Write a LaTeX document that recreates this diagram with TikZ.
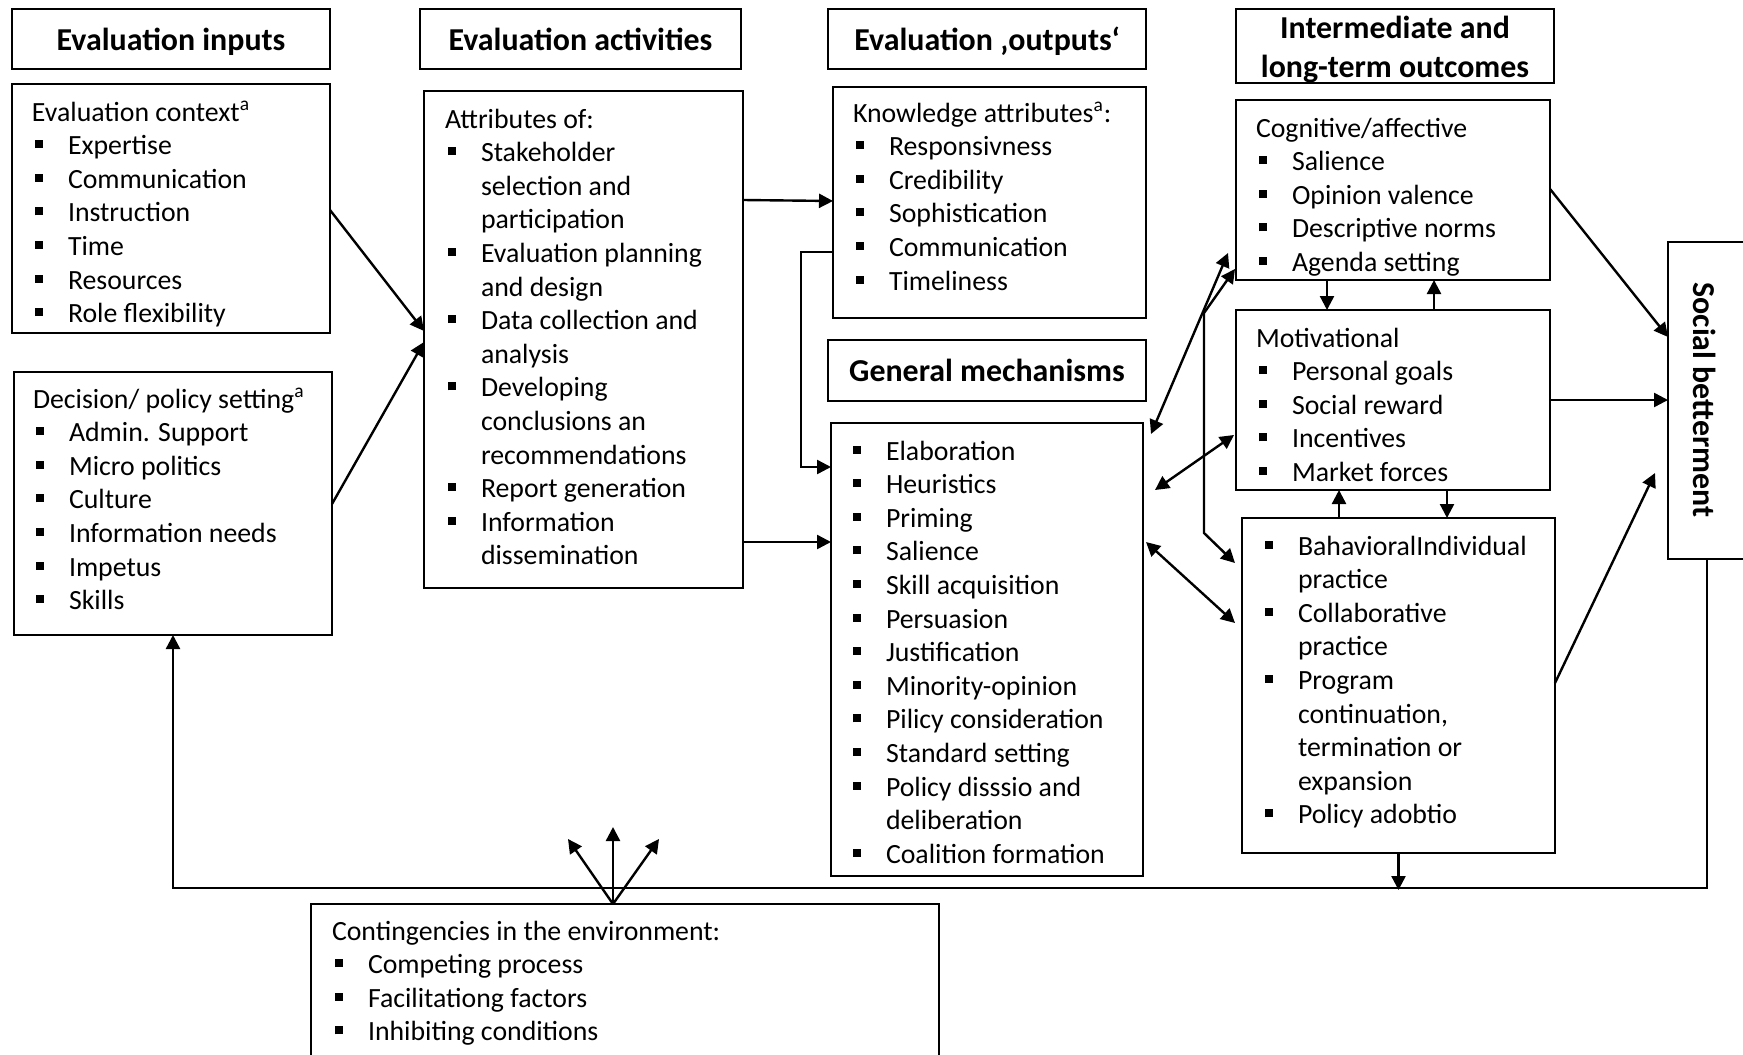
\documentclass[tikz,border=0pt]{standalone}
\usepackage{fontspec}
\setmainfont{Carlito}
\usetikzlibrary{arrows.meta,calc}
\newlength\PX
\setlength\PX{0.5pt}
\newcommand\bl[1]{\hspace*{3\PX}\rule[6.5\PX]{8\PX}{8\PX}\hspace*{25\PX}#1}
\newcommand\cl[1]{\hspace*{36\PX}#1}
\newcommand\mkbox[7][]{\node[box,#1,anchor=north west,minimum width={(#5-#3)*0.5pt},minimum height={(#6-#4)*0.5pt}] (#2) at (#3,#4) {#7};}
\newcommand\lst[1]{\parbox[t]{700\PX}{#1}}
\begin{document}
\begin{tikzpicture}[x=0.5pt,y=-0.5pt,
  box/.style={draw,line width=0.9pt,inner sep=0pt,outer sep=0pt},
  hdr/.style={font=\fontsize{15.95pt}{18.9pt}\selectfont\bfseries,inner sep=0pt,outer sep=0pt},
  conn/.style={line width=1.2pt,-{Triangle[length=7pt,width=7pt]}},
  dconn/.style={line width=1.2pt,{Triangle[length=7pt,width=7pt]}-{Triangle[length=7pt,width=7pt]}},
  txt/.style={anchor=base west,inner sep=0pt,outer sep=0pt,font=\fontsize{13.9pt}{16.8pt}\selectfont}]
\useasboundingbox (0,0) rectangle (1743,1054);
% boxes
\mkbox{hin}{12}{9}{330}{69}{}
\mkbox{ctx}{12}{84}{330}{333}{}
\mkbox{dec}{14}{372}{332}{635}{}
\mkbox{hact}{420}{9}{741}{69}{}
\mkbox{att}{424}{91}{743}{588}{}
\mkbox{hout}{828}{9}{1146}{69}{}
\mkbox{know}{833}{87}{1146}{318}{}
\mkbox{hgen}{828}{340}{1146}{401}{}
\mkbox{mech}{831}{423}{1143}{876}{}
\mkbox{hint}{1236}{9}{1554}{83}{}
\mkbox{cog}{1236}{100}{1550}{280}{}
\mkbox{mot}{1236}{310}{1550}{490}{}
\mkbox{beh}{1242}{518}{1555}{853}{}
\mkbox{soc}{1668}{242}{1746}{559}{}
\mkbox{cont}{311}{904}{939}{1070}{}
% headings
\node[hdr,anchor=base] (thin) at (hin.center |- 0,51) {Evaluation inputs};
\node[hdr,anchor=base] (thact) at (hact.center |- 0,51) {Evaluation activities};
\node[hdr,anchor=base] (thout) at (hout.center |- 0,51) {Evaluation ‚outputs‘};
\node[hdr,anchor=base] (thgen) at (hgen.center |- 0,381) {General mechanisms};
\node[hdr,anchor=base] (thint1) at (hint.center |- 0,39) {Intermediate and};
\node[hdr,anchor=base] (thint2) at (hint.center |- 0,77) {long-term outcomes};
\node[hdr,rotate=-90] (tsoc) at (1705,400) {Social betterment};
% texts
\node[txt] (tctx) at (32,121) {\lst{Evaluation context\textsuperscript{a}\\
\bl{Expertise}\\ \bl{Communication}\\ \bl{Instruction}\\ \bl{Time}\\ \bl{Resources}\\ \bl{Role flexibility}}};
\node[txt] (tdec) at (33,408) {\lst{Decision/ policy setting\textsuperscript{a}\\
\bl{Admin. Support}\\ \bl{Micro politics}\\ \bl{Culture}\\ \bl{Information needs}\\ \bl{Impetus}\\ \bl{Skills}}};
\node[txt] (tatt) at (445,128) {\lst{Attributes of:\\
\bl{Stakeholder}\\ \cl{selection and}\\ \cl{participation}\\
\bl{Evaluation planning}\\ \cl{and design}\\
\bl{Data collection and}\\ \cl{analysis}\\
\bl{Developing}\\ \cl{conclusions an}\\ \cl{recommendations}\\
\bl{Report generation}\\
\bl{Information}\\ \cl{dissemination}}};
\node[txt] (tknow) at (853,122) {\lst{Knowledge attributes\textsuperscript{a}:\\
\bl{Responsivness}\\ \bl{Credibility}\\ \bl{Sophistication}\\ \bl{Communication}\\ \bl{Timeliness}}};
\node[txt] (tmech) at (850,460) {\lst{\bl{Elaboration}\\ \bl{Heuristics}\\ \bl{Priming}\\ \bl{Salience}\\
\bl{Skill acquisition}\\ \bl{Persuasion}\\ \bl{Justification}\\ \bl{Minority-opinion}\\
\bl{Pilicy consideration}\\ \bl{Standard setting}\\ \bl{Policy disssio and}\\ \cl{deliberation}\\
\bl{Coalition formation}}};
\node[txt] (tcog) at (1256,137) {\lst{Cognitive/affective\\
\bl{Salience}\\ \bl{Opinion valence}\\ \bl{Descriptive norms}\\ \bl{Agenda setting}}};
\node[txt] (tmot) at (1256,347) {\lst{Motivational\\
\bl{Personal goals}\\ \bl{Social reward}\\ \bl{Incentives}\\ \bl{Market forces}}};
\node[txt] (tbeh) at (1262,555) {\lst{\bl{BahavioralIndividual}\\ \cl{practice}\\
\bl{Collaborative}\\ \cl{practice}\\
\bl{Program}\\ \cl{continuation,}\\ \cl{termination or}\\ \cl{expansion}\\
\bl{Policy adobtio}}};
\node[txt] (tcont) at (332,940) {\lst{Contingencies in the environment:\\
\bl{Competing process}\\ \bl{Facilitationg factors}\\ \bl{Inhibiting conditions}}};
% connectors
\draw[conn] (ctx.east |- 0,210) -- (att.west |- 0,331);
\draw[conn] (dec.east |- 0,504) -- (att.west |- 0,342);
\draw[conn] (att.east |- 0,200) -- (know.west |- 0,201);
\draw[conn] (know.west |- 0,252) -| (801,467) -- (mech.west |- 0,467);
\draw[conn] (att.east |- 0,542) -- (mech.west |- 0,542);
\draw[dconn] ($(mech.north east)+(8,11)$) -- ($(cog.south west)+(-8,-27)$);
\draw[dconn] ($(cog.south west)+(-1,-11)$) -- (1204,313) -- (1204,533) -- ($(beh.north west)+(-7,45)$);
\draw[dconn] ($(mech.north east)+(12,67)$) -- ($(mot.south west)+(-2,-55)$);
\draw[dconn] ($(mech.north east)+(3,119)$) -- ($(beh.north west)+(-7,105)$);
\draw[conn] (cog.south -| 1327,0) -- (mot.north -| 1327,0);
\draw[conn] (mot.north -| 1434,0) -- (cog.south -| 1434,0);
\draw[conn] (beh.north -| 1339,0) -- (mot.south -| 1339,0);
\draw[conn] (mot.south -| 1447,0) -- (beh.north -| 1447,0);
\draw[conn] (cog.east |- 0,189) -- (soc.west |- 0,337);
\draw[conn] (mot.east |- 0,400) -- (soc.west |- 0,400);
\coordinate (bsend) at (1655,473);
\draw[conn] (beh.east |- 0,683) -- (bsend);
\draw[conn] (soc.south) -- (soc.south |- 0,888) -| (dec.south);
\draw[conn] (beh.south) -- (beh.south |- 0,890);
\coordinate (cfoot) at (cont.north -| 613,0);
\draw[conn] (cfoot) -- ++(0,-77);
\draw[conn] (cfoot) -- ++(-45,-65);
\draw[conn] (cfoot) -- ++(46,-65);
\end{tikzpicture}
\end{document}
